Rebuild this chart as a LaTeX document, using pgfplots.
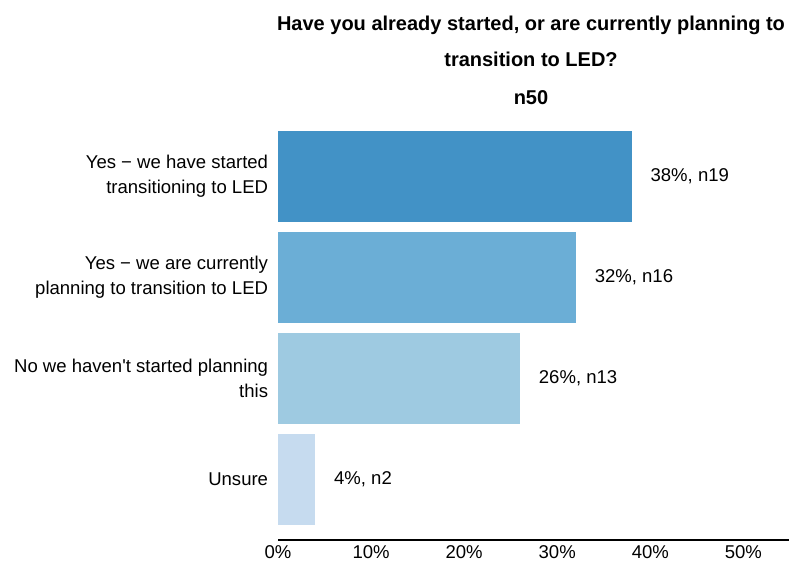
\documentclass[border=0pt]{standalone}
\usepackage{pgfplots}
\pgfplotsset{compat=1.18}
\usepackage{fontspec}
\setmainfont{Liberation Sans}
\definecolor{b1}{HTML}{4292C6}
\definecolor{b2}{HTML}{6BAED6}
\definecolor{b3}{HTML}{9ECAE1}
\definecolor{b4}{HTML}{C6DBEF}
\newcommand{\lab}{\fontsize{13.9}{18.75}\selectfont}
\begin{document}
\begin{tikzpicture}
\useasboundingbox (0,0) rectangle (596.25pt,421.5pt);
\begin{axis}[
  at={(208.5pt,16.5pt)}, anchor=south west,
  scale only axis, width=383.25pt, height=318pt,
  xmin=0, xmax=54.9, ymin=0.4, ymax=4.6,
  axis x line*=bottom, axis y line*=left,
  y axis line style={draw=none},
  x axis line style={line width=0.9pt},
  xtick={0,10,20,30,40,50},
  xticklabel={\pgfmathprintnumber{\tick}\%},
  /pgf/number format/assume math mode=true,
  xtick style={draw=none}, ytick style={draw=none},
  x tick label style={font=\lab, inner sep=0pt, anchor=north},
  xticklabel shift=4pt,
  ytick={1,2,3,4},
  yticklabels={Unsure,{No we haven\textquotesingle t started planning\\this},{Yes − we are currently\\planning to transition to LED},{Yes − we have started\\transitioning to LED}},
  y tick label style={font=\lab, align=right, inner sep=0pt, anchor=east},
  yticklabel shift=3pt,
  xbar, bar width=0.9, bar shift=0pt,
  nodes near coords style={font=\lab, anchor=west, inner sep=0pt, xshift=14pt, text=black},
  clip=false,
]
\addplot[fill=b1, draw=none, nodes near coords={38\%, n19}] coordinates {(38,4)};
\addplot[fill=b2, draw=none, nodes near coords={32\%, n16}] coordinates {(32,3)};
\addplot[fill=b3, draw=none, nodes near coords={26\%, n13}] coordinates {(26,2)};
\addplot[fill=b4, draw=none, nodes near coords={4\%, n2}] coordinates {(4,1)};
\end{axis}
\node[font=\bfseries\fontsize{15}{18}\selectfont, anchor=base] at (398.25pt,399pt) {Have you already started, or are currently planning to};
\node[font=\bfseries\fontsize{15}{18}\selectfont, anchor=base] at (398.25pt,371.25pt) {transition to LED?};
\node[font=\bfseries\fontsize{15}{18}\selectfont, anchor=base] at (398.25pt,343.5pt) {n50};
\end{tikzpicture}
\end{document}
